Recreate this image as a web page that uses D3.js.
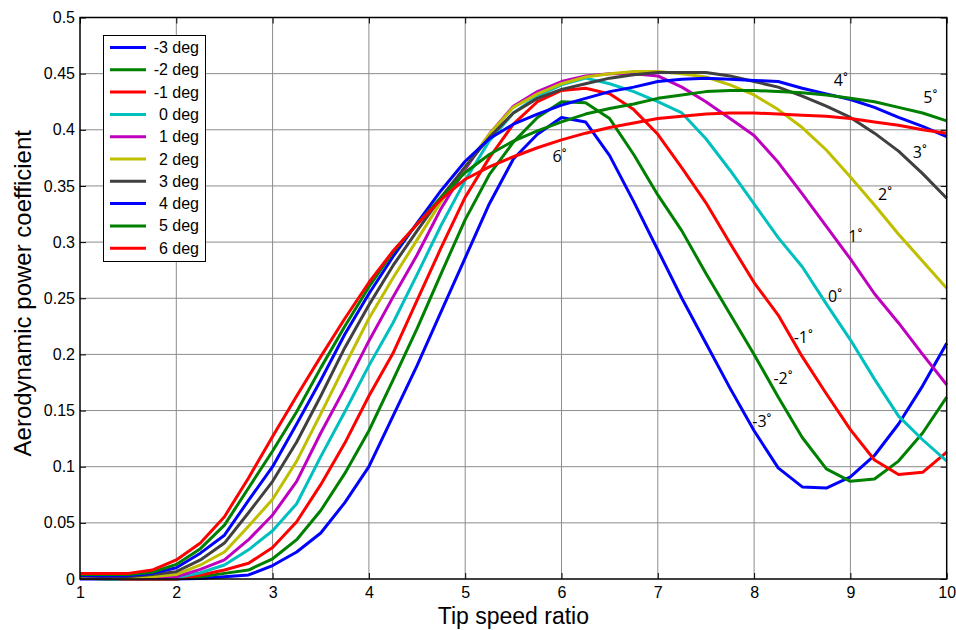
<!DOCTYPE html>
<html><head><meta charset="utf-8">
<script src="https://cdn.jsdelivr.net/npm/d3@7"></script>
<style>body{margin:0;background:#fff}svg{display:block}</style>
</head><body>
<svg id="c" width="956" height="630"></svg>
<script>
const tsr = d3.range(1, 10.001, 0.25);
const seriesNames = ["-3 deg","-2 deg","-1 deg"," 0 deg"," 1 deg"," 2 deg"," 3 deg"," 4 deg"," 5 deg"," 6 deg"];
const colors = ["#0000ff","#008000","#ff0000","#00bfbf","#bf00bf","#bfbf00","#404040","#0000ff","#008000","#ff0000"];
const cpM3 = [0,0,0,0,0,0.0005,0.002,0.0036,0.012,0.024,0.041,0.068,0.1,0.145,0.19,0.238,0.286,0.334,0.374,0.396,0.411,0.407,0.377,0.336,0.293,0.25,0.21,0.17,0.132,0.099,0.082,0.081,0.091,0.11,0.138,0.172,0.21];
const cpM2 = [0.001,0,0,0,0,0.002,0.005,0.008,0.018,0.035,0.061,0.094,0.132,0.177,0.223,0.272,0.32,0.36,0.389,0.411,0.425,0.424,0.41,0.378,0.342,0.31,0.272,0.236,0.2,0.162,0.126,0.098,0.087,0.089,0.105,0.13,0.162];
const cpM1 = [0.001,0.001,0,0,0,0.0036,0.008,0.014,0.028,0.051,0.084,0.121,0.163,0.201,0.248,0.295,0.34,0.375,0.405,0.425,0.435,0.437,0.432,0.418,0.396,0.366,0.335,0.299,0.264,0.235,0.198,0.165,0.133,0.106,0.093,0.095,0.113];
const cp0 = [0.002,0.001,0.001,0.001,0.001,0.0056,0.0125,0.026,0.043,0.067,0.109,0.149,0.19,0.228,0.271,0.315,0.355,0.39,0.415,0.43,0.44,0.446,0.441,0.434,0.425,0.415,0.392,0.364,0.334,0.304,0.278,0.245,0.213,0.178,0.145,0.124,0.105];
const cp1 = [0.002,0.001,0.001,0.001,0.002,0.0086,0.017,0.035,0.057,0.087,0.13,0.17,0.212,0.251,0.2885,0.33,0.365,0.396,0.421,0.434,0.443,0.448,0.45,0.45,0.448,0.438,0.425,0.41,0.395,0.371,0.343,0.314,0.285,0.254,0.228,0.2,0.173];
const cp2 = [0.002,0.002,0.001,0.002,0.004,0.0125,0.024,0.047,0.071,0.105,0.147,0.19,0.232,0.268,0.302,0.336,0.367,0.396,0.42,0.432,0.441,0.447,0.45,0.452,0.452,0.45,0.447,0.44,0.431,0.418,0.402,0.382,0.358,0.333,0.307,0.283,0.259];
const cp3 = [0.003,0.002,0.002,0.004,0.0065,0.017,0.032,0.059,0.087,0.122,0.163,0.206,0.244,0.279,0.31,0.34,0.367,0.393,0.415,0.428,0.436,0.441,0.446,0.449,0.451,0.451,0.451,0.448,0.443,0.438,0.43,0.421,0.411,0.397,0.381,0.361,0.339];
const cp4 = [0.003,0.003,0.003,0.005,0.01,0.023,0.039,0.07,0.1,0.138,0.177,0.218,0.254,0.287,0.317,0.346,0.372,0.392,0.405,0.414,0.422,0.428,0.434,0.438,0.443,0.445,0.446,0.445,0.444,0.443,0.437,0.432,0.427,0.42,0.411,0.403,0.394];
const cp5 = [0.004,0.004,0.004,0.006,0.013,0.027,0.048,0.081,0.114,0.149,0.188,0.225,0.26,0.291,0.316,0.34,0.362,0.378,0.39,0.399,0.407,0.414,0.419,0.423,0.428,0.431,0.434,0.435,0.435,0.434,0.433,0.431,0.428,0.425,0.42,0.415,0.408];
const cp6 = [0.005,0.005,0.005,0.008,0.017,0.032,0.0555,0.09,0.127,0.163,0.198,0.232,0.264,0.292,0.316,0.338,0.356,0.367,0.376,0.384,0.391,0.397,0.402,0.406,0.41,0.412,0.414,0.415,0.415,0.414,0.413,0.412,0.41,0.407,0.404,0.4,0.397];
const allSeries = [cpM3,cpM2,cpM1,cp0,cp1,cp2,cp3,cp4,cp5,cp6];
const xTicks = [1,2,3,4,5,6,7,8,9,10];
const yTicks = [0,0.05,0.1,0.15,0.2,0.25,0.3,0.35,0.4,0.45,0.5];
const curveLabels = ["-3˚","-2˚","-1˚","0˚","1˚","2˚","3˚","4˚","5˚","6˚"];
const labelAt = [[8.08,0.1354],[8.30,0.1736],[8.51,0.210],[8.84,0.2467],[9.05,0.300],[9.36,0.3375],[9.72,0.375],[8.90,0.439],[9.83,0.424],[5.98,0.371]];

const svg = d3.select("#c");
const L = 80, R = 946.7, T = 17.5, B = 579;
const x = d3.scaleLinear().domain([1,10]).range([L,R]);
const y = d3.scaleLinear().domain([0,0.5]).range([B,T]);
const FONT = "Liberation Sans, Arial, sans-serif";

// grid
const g = svg.append("g");
g.selectAll(".gx").data(xTicks.slice(1,-1)).enter().append("line")
  .attr("x1",d=>x(d)).attr("x2",d=>x(d)).attr("y1",T).attr("y2",B)
  .attr("stroke","#8c8c8c").attr("stroke-width",1);
g.selectAll(".gy").data(yTicks.slice(1,-1)).enter().append("line")
  .attr("y1",d=>y(d)).attr("y2",d=>y(d)).attr("x1",L).attr("x2",R)
  .attr("stroke","#8c8c8c").attr("stroke-width",1);

// axes
const xAxis = d3.axisBottom(x).tickValues(xTicks).tickFormat(d3.format("d")).tickSizeInner(-6).tickSizeOuter(0).tickPadding(8);
const yAxis = d3.axisLeft(y).tickValues(yTicks).tickFormat(d=>d===0?"0":String(d)).tickSizeInner(-6).tickSizeOuter(0).tickPadding(5);
const xa = svg.append("g").attr("transform",`translate(0,${B})`).call(xAxis);
const ya = svg.append("g").attr("transform",`translate(${L},0)`).call(yAxis);
const xt = svg.append("g").attr("transform",`translate(0,${T})`).call(d3.axisTop(x).tickValues(xTicks).tickFormat("").tickSizeInner(-6).tickSizeOuter(0));
const yr = svg.append("g").attr("transform",`translate(${R},0)`).call(d3.axisRight(y).tickValues(yTicks).tickFormat("").tickSizeInner(-6).tickSizeOuter(0));
[xa,ya,xt,yr].forEach(a=>{a.select(".domain").remove();a.selectAll("line").attr("stroke","#000");
  a.selectAll("text").attr("font-family",FONT).attr("font-size",16).attr("fill","#000");});

// lines
const line = d3.line().x((d,i)=>x(tsr[i])).y(d=>y(d));
svg.append("g").selectAll("path").data(allSeries).enter().append("path")
  .attr("d",line).attr("fill","none").attr("stroke",(d,i)=>colors[i]).attr("stroke-width",3)
  .attr("stroke-linejoin","round");

// box
svg.append("rect").attr("x",L).attr("y",T).attr("width",R-L).attr("height",B-T)
  .attr("fill","none").attr("stroke","#000").attr("stroke-width",1.5);

// curve labels
svg.append("g").selectAll("text").data(curveLabels).enter().append("text")
  .attr("x",(d,i)=>x(labelAt[i][0])).attr("y",(d,i)=>y(labelAt[i][1]))
  .attr("text-anchor","middle").attr("font-family","Open Sans, sans-serif").attr("font-size",16).attr("fill","#000")
  .text(d=>d);

// legend
const lg = svg.append("g");
lg.append("rect").attr("x",103.5).attr("y",35.5).attr("width",102).attr("height",226)
  .attr("fill","#fff").attr("stroke","#000").attr("stroke-width",1);
seriesNames.forEach((n,i)=>{
  const yy = 47.5 + i*22.3;
  lg.append("line").attr("x1",110).attr("x2",146).attr("y1",yy).attr("y2",yy)
    .attr("stroke",colors[i]).attr("stroke-width",3);
  lg.append("text").attr("x",199).attr("y",yy+5.5).attr("text-anchor","end")
    .attr("font-family",FONT).attr("font-size",16).attr("fill","#000")
    .style("white-space","pre").text(n);
});

// axis titles
svg.append("text").attr("x",(L+R)/2).attr("y",624).attr("text-anchor","middle")
  .attr("font-family",FONT).attr("font-size",23).text("Tip speed ratio");
svg.append("text").attr("transform",`translate(31,${(T+B)/2 - 5}) rotate(-90)`).attr("text-anchor","middle")
  .attr("font-family",FONT).attr("font-size",24).text("Aerodynamic power coefficient");
</script>
</body></html>
